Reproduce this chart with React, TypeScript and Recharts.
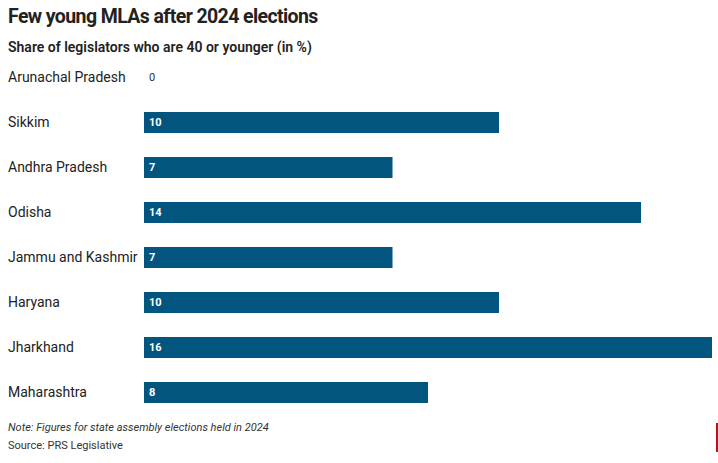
import { Bar, BarChart, LabelList, XAxis, YAxis } from 'recharts';

const states = [
  'Arunachal Pradesh',
  'Sikkim',
  'Andhra Pradesh',
  'Odisha',
  'Jammu and Kashmir',
  'Haryana',
  'Jharkhand',
  'Maharashtra',
];
const youngShare = [0, 10, 7, 14, 7, 10, 16, 8];
const xTicks = [0, 16];

const data = states.map((state, i) => ({ state, value: youngShare[i] }));

const FONT = 'Roboto, "Noto Sans", sans-serif';
const BAR_COLOR = '#02557f';

function StateTick(props: any) {
  const { y, payload } = props;
  const value = youngShare[payload.index];
  return (
    <g>
      <text x={8} y={y} dy="0.35em" textAnchor="start" fontSize={14} fill="#222" fontFamily={FONT}>
        {payload.value}
      </text>
      {value === 0 && (
        <text x={149} y={y} dy="0.35em" fontSize={11} fill="#333" fontFamily={FONT}>
          {value}
        </text>
      )}
    </g>
  );
}

function ValueLabel(props: any) {
  const { x, y, height, value } = props;
  if (!value) return null;
  return (
    <text
      x={Number(x) + 5}
      y={Number(y) + Number(height) / 2}
      dy="0.35em"
      fontSize={11}
      fontWeight={700}
      fill="#ffffff"
      fontFamily={FONT}
    >
      {value}
    </text>
  );
}

export default function App() {
  return (
    <div style={{ position: 'absolute', left: 0, top: 0, width: 718, height: 463, background: '#fff', fontFamily: FONT, color: '#222' }}>
      <div style={{ position: 'absolute', left: 8, top: 5, fontSize: 19.5, fontWeight: 700, letterSpacing: -0.6 }}>
        Few young MLAs after 2024 elections
      </div>
      <div style={{ position: 'absolute', left: 8, top: 39, fontSize: 14, fontWeight: 600 }}>
        Share of legislators who are 40 or younger (in %)
      </div>
      <BarChart
        width={718}
        height={463}
        data={data}
        layout="vertical"
        margin={{ top: 55, right: 6, bottom: 48, left: 0 }}
        barCategoryGap={12}
      >
        <XAxis type="number" domain={[0, 16]} ticks={xTicks} hide />
        <YAxis type="category" dataKey="state" width={144} axisLine={false} tickLine={false} tick={<StateTick />} interval={0} />
        <Bar dataKey="value" fill={BAR_COLOR} barSize={21} isAnimationActive={false}>
          <LabelList dataKey="value" content={<ValueLabel />} />
        </Bar>
      </BarChart>
      <div style={{ position: 'absolute', left: 8, top: 421, fontSize: 11, fontStyle: 'italic', color: '#333' }}>
        Note: Figures for state assembly elections held in 2024
      </div>
      <div style={{ position: 'absolute', left: 8, top: 439, fontSize: 11, color: '#333' }}>
        Source: PRS Legislative
      </div>
      <div style={{ position: 'absolute', left: 716, top: 423, width: 2, height: 29, background: '#b5121b' }} />
    </div>
  );
}
